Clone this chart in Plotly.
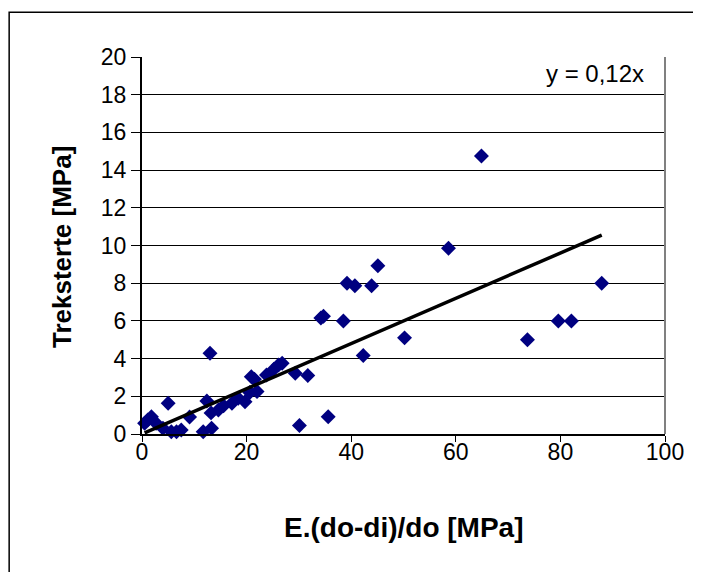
import plotly.graph_objects as go

# Data
x_vals = [0.5, 1.1, 1.8, 2.7, 4.0, 5.0, 5.6, 6.6, 7.5, 9.1, 11.7, 12.4, 13.0, 13.3, 13.2,
          14.6, 15.6, 17.2, 18.4, 19.7, 20.6, 20.9, 21.5, 22.0, 23.8, 25.2, 26.1, 26.8,
          29.3, 30.1, 31.7, 34.2, 34.7, 35.6, 38.5, 39.2, 40.7, 42.3, 43.9, 45.1, 50.2,
          58.6, 64.9, 73.7, 79.6, 82.1, 87.9]
y_vals = [0.57, 0.74, 0.92, 0.57, 0.3, 1.63, 0.12, 0.12, 0.21, 0.9, 0.12, 1.75, 4.28, 0.3, 1.12,
          1.27, 1.5, 1.63, 1.9, 1.71, 2.2, 3.04, 2.9, 2.25, 3.13, 3.43, 3.66, 3.75,
          3.22, 0.45, 3.1, 6.15, 6.25, 0.92, 6.0, 8.0, 7.87, 4.17, 7.87, 8.93, 5.1,
          9.85, 14.75, 5.0, 6.0, 6.0, 8.0]
slope = 0.12
trend_label = "y = 0,12x"
x_title = "E.(do-di)/do [MPa]"
y_title = "Treksterte [MPa]"
x_ticks = [0, 20, 40, 60, 80, 100]
y_ticks = [0, 2, 4, 6, 8, 10, 12, 14, 16, 18, 20]

trend_x = [min(x_vals), max(x_vals)]
trend_y = [slope * v for v in trend_x]

font_family = "Liberation Sans, Arial, sans-serif"

fig = go.Figure()
fig.add_trace(go.Scatter(
    x=x_vals, y=y_vals, mode="markers",
    marker=dict(symbol="diamond", size=11.5, color="#000080", line=dict(width=0)),
    showlegend=False, cliponaxis=False,
))
fig.add_trace(go.Scatter(
    x=trend_x, y=trend_y, mode="lines",
    line=dict(color="black", width=3.5),
    showlegend=False,
))

fig.update_layout(
    width=693, height=564,
    margin=dict(l=134, r=36, t=49, b=138),
    paper_bgcolor="white", plot_bgcolor="white",
    font=dict(family=font_family, size=23, color="black"),
    xaxis=dict(
        range=[0, 100], tickvals=x_ticks, ticks="outside", ticklen=6, tickcolor="black",
        showgrid=False, zeroline=False, showline=True, linecolor="black", linewidth=2,
        tickfont=dict(size=23), ticklabelstandoff=-10,
    ),
    yaxis=dict(
        range=[0, 20], tickvals=y_ticks, ticks="outside", ticklen=9, tickcolor="black",
        showgrid=True, gridcolor="black", gridwidth=1, zeroline=False,
        showline=True, linecolor="black", linewidth=2, tickfont=dict(size=23),
    ),
    annotations=[
        dict(x=0.9637, y=0.955, xref="paper", yref="paper", xanchor="right", yanchor="middle",
             text=trend_label, showarrow=False, font=dict(size=24, color="black")),
        dict(x=0.5, y=-0.247, xref="paper", yref="paper", xanchor="center", yanchor="middle",
             text="<b>" + x_title + "</b>", showarrow=False, font=dict(size=28, color="black")),
        dict(x=-0.153, y=0.496, xref="paper", yref="paper", xanchor="center", yanchor="middle",
             text="<b>" + y_title + "</b>", showarrow=False, textangle=-90,
             font=dict(size=26, color="black")),
    ],
    shapes=[
        # right border of plot area
        dict(type="line", xref="paper", yref="paper", x0=1, x1=1, y0=0, y1=1,
             line=dict(color="#808080", width=2)),
        # outer chart frame
        dict(type="rect", xref="paper", yref="paper", x0=-0.254, x1=1.3, y0=-0.6, y1=1.119,
             line=dict(color="black", width=1.5), layer="below"),
    ],
)

fig.write_html("out.html")
